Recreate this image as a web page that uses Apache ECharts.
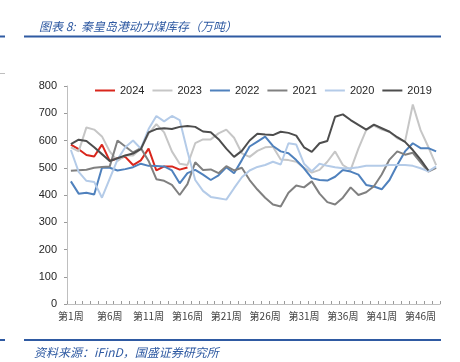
<!DOCTYPE html>
<html><head><meta charset="utf-8">
<script src="https://cdn.jsdelivr.net/npm/echarts@6/dist/echarts.min.js"></script>
<style>html,body{margin:0;padding:0;background:#fff}#c{width:460px;height:362px}</style>
</head><body><div id="c"></div>
<script>
const categories = ['第1周','第2周','第3周','第4周','第5周','第6周','第7周','第8周','第9周','第10周','第11周','第12周','第13周','第14周','第15周','第16周','第17周','第18周','第19周','第20周','第21周','第22周','第23周','第24周','第25周','第26周','第27周','第28周','第29周','第30周','第31周','第32周','第33周','第34周','第35周','第36周','第37周','第38周','第39周','第40周','第41周','第42周','第43周','第44周','第45周','第46周','第47周','第48周'];
const yTicks = [0,100,200,300,400,500,600,700,800];
const s2024 = [585,568,547,541,585,525,535,540,510,527,570,490,505,505,493,501];
const s2023 = [575,560,648,640,615,560,525,545,545,570,625,660,630,560,515,510,590,604,604,626,640,610,553,540,562,575,577,530,528,522,500,482,492,522,560,510,492,570,638,655,640,632,608,596,732,638,576,510];
const s2022 = [450,405,408,402,500,500,490,495,502,515,507,506,505,490,443,480,492,475,455,472,502,480,528,578,596,614,580,560,553,528,498,462,455,453,467,492,486,475,437,431,421,455,510,560,590,572,572,560];
const s2021 = [489,491,493,500,503,505,600,578,556,572,525,458,452,437,400,440,520,492,494,480,506,490,500,455,420,390,365,358,408,435,428,450,405,374,365,390,428,400,410,432,475,530,560,548,555,520,486,500];
const s2020 = [565,485,452,448,390,460,530,575,600,570,642,690,670,690,675,560,455,415,393,388,383,425,465,490,503,510,522,512,590,585,515,487,515,507,502,498,498,502,507,507,507,510,510,510,507,498,487,505];
const s2019 = [587,603,598,575,550,525,535,545,552,568,630,642,645,642,650,653,650,633,630,605,570,540,562,600,625,622,620,632,628,618,575,558,590,598,687,696,675,657,640,658,645,632,612,595,565,530,490];
const seriesNames = ['2024','2023','2022','2021','2020','2019'];
const seriesData = [s2024,s2023,s2022,s2021,s2020,s2019];
const colors = ['#d9261c','#c6c6c6','#4f81bd','#808080','#b4cbe8','#4d4d4d'];

const chart = echarts.init(document.getElementById('c'));
const blue = '#2f5aa2';
chart.setOption({
  backgroundColor:'#fff',
  animation:false,
  title:{text:'图表 8:  秦皇岛港动力煤库存（万吨）',left:34,top:15,
    textStyle:{fontSize:12,fontStyle:'italic',fontWeight:'normal',color:blue,fontFamily:'Noto Sans CJK SC'}},
  legend:{data:seriesNames,left:90,top:80,itemWidth:20,itemHeight:2,itemGap:8,icon:'rect',
    textStyle:{fontSize:11,color:'#262626',fontFamily:'Liberation Sans'}},
  grid:{left:67,right:20,top:86,bottom:58,containLabel:false},
  xAxis:{type:'category',data:categories,boundaryGap:true,
    axisLine:{lineStyle:{color:'#bfbfbf',width:1}},
    axisTick:{show:true,inside:true,length:3,interval:0,lineStyle:{color:'#9a9a9a'}},
    axisLabel:{interval:4,fontSize:10,color:'#404040',margin:7,fontFamily:'Noto Sans CJK SC'},
    splitLine:{show:false}},
  yAxis:{type:'value',min:yTicks[0],max:yTicks[yTicks.length-1],interval:100,
    axisLine:{show:true,lineStyle:{color:'#bfbfbf'}},
    axisTick:{show:true,length:3,lineStyle:{color:'#9a9a9a'}},
    axisLabel:{fontSize:11,color:'#262626',margin:10,fontFamily:'Liberation Sans'},
    splitLine:{show:false}},
  series:seriesNames.map((n,i)=>({name:n,type:'line',data:seriesData[i],symbol:'none',
    lineStyle:{width:2,color:colors[i]},itemStyle:{color:colors[i]},z:2+i})),
  graphic:[
    {type:'line',shape:{x1:24,y1:36.5,x2:441,y2:36.5},style:{stroke:blue,lineWidth:2}},
    {type:'line',shape:{x1:0,y1:36.5,x2:5,y2:36.5},style:{stroke:blue,lineWidth:2}},
    {type:'line',shape:{x1:0,y1:73.5,x2:5,y2:73.5},style:{stroke:'#bfbfbf',lineWidth:1}},
    {type:'line',shape:{x1:24,y1:340,x2:441,y2:340},style:{stroke:blue,lineWidth:2}},
    {type:'line',shape:{x1:0,y1:340,x2:5,y2:340},style:{stroke:blue,lineWidth:2}},
    {type:'text',left:34,top:346,style:{text:'资料来源：iFinD，国盛证券研究所',fontSize:12,fontStyle:'italic',fill:blue,fontFamily:'Noto Sans CJK SC'}}
  ]
});
</script></body></html>
